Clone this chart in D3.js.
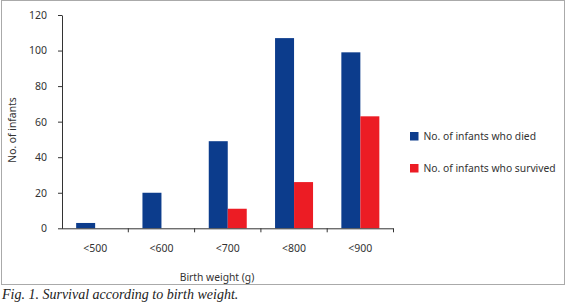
<!DOCTYPE html>
<html>
<head>
<meta charset="utf-8">
<script src="https://cdn.jsdelivr.net/npm/d3@7/dist/d3.min.js"></script>
<style>
  body { margin: 0; background: #fff; }
  svg { display: block; }
  .axis path, .axis line { stroke: #333; }
  .axis text { font-family: "Noto Sans", sans-serif; font-size: 10.5px; fill: #333; }
  .lbl { font-family: "Noto Sans", sans-serif; font-size: 10.3px; fill: #333; }
  .caption { font-family: "Liberation Serif", serif; font-style: italic; font-size: 14px; fill: #222; }
</style>
</head>
<body>
<div id="chart"></div>
<script>
// categories and series
const categories = ["<500", "<600", "<700", "<800", "<900"];
const died = [3, 20, 49, 107, 99];
const survived = [0, 0, 11, 26, 63];
const yTicks = [0, 20, 40, 60, 80, 100, 120];
const seriesNames = ["No. of infants who died", "No. of infants who survived"];

const COLOR = { died: "#0c3c8c", survived: "#ec1c24" };

const W = 567, H = 306;
const plot = { left: 62, right: 393.5, top: 15, bottom: 228.3 };

const svg = d3.select("#chart").append("svg")
  .attr("width", W).attr("height", H);

// light grey frame around the figure
svg.append("rect")
  .attr("x", 1.5).attr("y", 0.5).attr("width", 563).attr("height", 284)
  .attr("fill", "none").attr("stroke", "#aaa");

const data = categories.map((c, i) => ({ cat: c, died: died[i], survived: survived[i] }));

const x = d3.scaleBand()
  .domain(categories)
  .range([plot.left, plot.right])
  .paddingInner(0.427)
  .paddingOuter(0.2135);

const xs = d3.scaleBand().domain(["died", "survived"]).range([0, x.bandwidth()]);

const y = d3.scaleLinear().domain([0, 120]).range([plot.bottom, plot.top]);

// bars
const grp = svg.append("g").selectAll("g").data(data).join("g")
  .attr("transform", d => `translate(${x(d.cat)},0)`);
grp.selectAll("rect")
  .data(d => ["died", "survived"].map(k => ({ k, v: d[k] })))
  .join("rect")
    .attr("x", d => xs(d.k))
    .attr("width", xs.bandwidth())
    .attr("y", d => y(d.v))
    .attr("height", d => y(0) - y(d.v))
    .attr("fill", d => COLOR[d.k]);

// y axis
svg.append("g").attr("class", "axis")
  .attr("transform", `translate(${plot.left},0)`)
  .call(d3.axisLeft(y).tickValues(yTicks).tickSize(4).tickSizeOuter(0).tickPadding(11));

// x axis: line with ticks at category boundaries
const xa = svg.append("g").attr("class", "axis");
xa.append("line")
  .attr("x1", plot.left).attr("x2", plot.right)
  .attr("y1", y(0) + 0.5).attr("y2", y(0) + 0.5);
xa.selectAll("line.tk").data(categories).join("line").attr("class", "tk")
  .attr("x1", c => x(c) + x.bandwidth() + x.step() * x.paddingInner() / 2)
  .attr("x2", c => x(c) + x.bandwidth() + x.step() * x.paddingInner() / 2)
  .attr("y1", y(0)).attr("y2", y(0) + 4);
xa.selectAll("text").data(categories).join("text")
  .attr("x", c => x(c) + x.bandwidth() / 2)
  .attr("y", 251.5)
  .attr("text-anchor", "middle")
  .text(c => c);

// axis titles
svg.append("text").attr("class", "lbl")
  .attr("x", 217).attr("y", 280.5).attr("text-anchor", "middle")
  .text("Birth weight (g)");
svg.append("text").attr("class", "lbl")
  .attr("transform", "translate(16,130) rotate(-90)")
  .attr("text-anchor", "middle")
  .text("No. of infants");

// legend
const leg = svg.append("g").selectAll("g").data(seriesNames).join("g")
  .attr("transform", (d, i) => `translate(410,${132 + i * 32})`);
leg.append("rect").attr("width", 8.5).attr("height", 8.5)
  .attr("fill", (d, i) => i === 0 ? COLOR.died : COLOR.survived);
leg.append("text").attr("class", "lbl")
  .attr("x", 13.5).attr("y", 8.3).text(d => d);

// caption
svg.append("text").attr("class", "caption")
  .attr("x", 2).attr("y", 298.5)
  .text("Fig. 1. Survival according to birth weight.");
</script>
</body>
</html>
